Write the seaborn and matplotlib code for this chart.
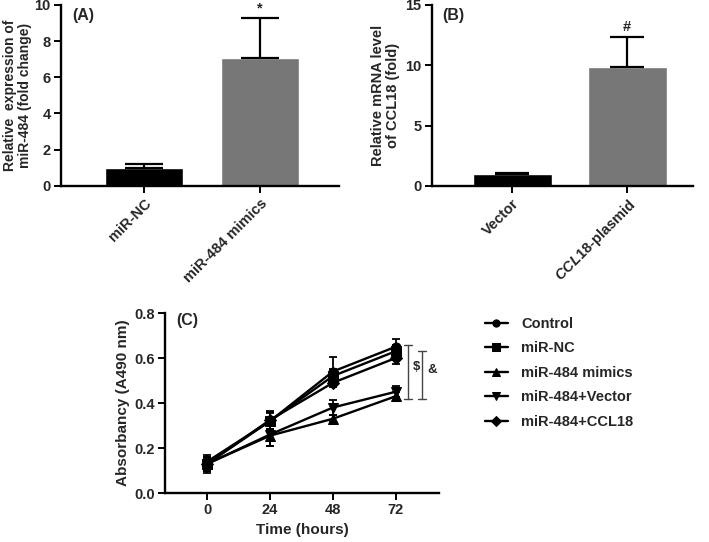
import matplotlib
matplotlib.use("Agg")
import matplotlib.pyplot as plt
import seaborn as sns
import pandas as pd
import numpy as np

# ---------------- data ----------------
a_cats = ["miR-NC", "miR-484 mimics"]
a_means = [1.0, 7.05]
a_err = [0.22, 2.2]

b_cats = ["Vector", "CCL18-plasmid"]
b_means = [0.95, 9.85]
b_err = [0.1, 2.45]

times = [0, 24, 48, 72]
groups = ["Control", "miR-NC", "miR-484 mimics", "miR-484+Vector", "miR-484+CCL18"]
control = [0.14, 0.32, 0.54, 0.65]
mir_nc = [0.13, 0.32, 0.52, 0.63]
mimics = [0.13, 0.255, 0.33, 0.43]
vector = [0.13, 0.26, 0.38, 0.45]
ccl18 = [0.13, 0.325, 0.49, 0.60]
control_err = [0.02, 0.04, 0.065, 0.035]
mir_nc_err = [0.03, 0.035, 0.03, 0.03]
mimics_err = [0.02, 0.045, 0.015, 0.02]
vector_err = [0.03, 0.05, 0.035, 0.025]
ccl18_err = [0.04, 0.04, 0.02, 0.025]

series = [control, mir_nc, mimics, vector, ccl18]
series_err = [control_err, mir_nc_err, mimics_err, vector_err, ccl18_err]

# ---------------- style ----------------
sns.set_theme(style="ticks")
plt.rcParams["font.family"] = ["Liberation Sans", "DejaVu Sans"]
plt.rcParams["font.weight"] = "bold"
plt.rcParams["axes.labelweight"] = "bold"
plt.rcParams["mathtext.fontset"] = "custom"
plt.rcParams["mathtext.it"] = "Liberation Sans:italic"
plt.rcParams["mathtext.rm"] = "Liberation Sans"

FS = 10.5
LFS = 10
fig = plt.figure(figsize=(7.09, 5.42), dpi=100)

def style_axes(ax):
    for s in ["top", "right"]:
        ax.spines[s].set_visible(False)
    for s in ["left", "bottom"]:
        ax.spines[s].set_linewidth(1.7)
        ax.spines[s].set_color("black")
    ax.tick_params(axis="both", width=1.4, length=5, color="black",
                   labelsize=FS, direction="out", pad=2.5)
    for lab in ax.get_yticklabels():
        lab.set_fontweight("bold")

# ---------------- panel A ----------------
axA = fig.add_axes([0.086, 0.657, 0.392, 0.334])
sns.barplot(x=a_cats, y=a_means, hue=a_cats, palette=["#000000", "#777777"],
            legend=False, width=0.67, saturation=1, ax=axA)
axA.errorbar(range(len(a_cats)), a_means, yerr=[[0] * len(a_err), a_err],
             fmt="none", ecolor="black", elinewidth=1.6, capsize=14, capthick=1.6)
axA.set_xlim(-0.716, 1.68)
axA.set_ylim(0, 10)
axA.set_yticks([0, 2, 4, 6, 8, 10])
axA.set_ylabel("Relative  expression of\nmiR-484 (fold change)", fontsize=LFS,
               fontweight="bold", labelpad=2, linespacing=1.05)
axA.set_xlabel("")
style_axes(axA)
axA.set_xticks(range(len(a_cats)))
axA.set_xticklabels(a_cats, rotation=45, ha="right", rotation_mode="anchor",
                    fontweight="bold", fontsize=FS)
axA.text(0.04, 0.985, "(A)", transform=axA.transAxes, fontsize=FS + 1,
         fontweight="bold", va="top", ha="left")
axA.text(1, a_means[1] + a_err[1] + 0.15, "*", ha="center", va="bottom",
         fontsize=FS, fontweight="bold")

# ---------------- panel B ----------------
axB = fig.add_axes([0.609, 0.657, 0.368, 0.334])
sns.barplot(x=b_cats, y=b_means, hue=b_cats, palette=["#000000", "#777777"],
            legend=False, width=0.69, saturation=1, ax=axB)
axB.errorbar(range(len(b_cats)), b_means, yerr=[[0] * len(b_err), b_err],
             fmt="none", ecolor="black", elinewidth=1.6, capsize=12.5, capthick=1.6)
axB.set_xlim(-0.70, 1.57)
axB.set_ylim(0, 15)
axB.set_yticks([0, 5, 10, 15])
axB.set_ylabel("Relative mRNA level\nof CCL18 (fold)", fontsize=LFS + 0.5,
               fontweight="bold", labelpad=4, linespacing=1.05)
axB.set_xlabel("")
style_axes(axB)
axB.set_xticks(range(len(b_cats)))
axB.set_xticklabels(["Vector", r"$\mathit{CCL18}$-plasmid"], rotation=45, ha="right",
                    rotation_mode="anchor", fontweight="bold", fontsize=FS)
axB.text(0.04, 0.985, "(B)", transform=axB.transAxes, fontsize=FS + 1,
         fontweight="bold", va="top", ha="left")
axB.text(1, b_means[1] + b_err[1] + 0.3, "#", ha="center", va="bottom",
         fontsize=FS, fontweight="bold")

# ---------------- panel C ----------------
axC = fig.add_axes([0.233, 0.0904, 0.386, 0.3321])
rows = []
for g, vals in zip(groups, series):
    for t, v in zip(times, vals):
        rows.append({"Time": t, "Absorbancy": v, "Group": g})
df = pd.DataFrame(rows)
markers = {"Control": "o", "miR-NC": "s", "miR-484 mimics": "^",
           "miR-484+Vector": "v", "miR-484+CCL18": "D"}
sns.lineplot(data=df, x="Time", y="Absorbancy", hue="Group", style="Group",
             markers=markers, dashes=False, palette=["black"] * 5,
             hue_order=groups, style_order=groups,
             linewidth=1.7, markersize=6.5, markeredgecolor="black", ax=axC)
for vals, errs in zip(series, series_err):
    axC.errorbar(times, vals, yerr=errs, fmt="none", ecolor="black",
                 elinewidth=1.3, capsize=3, capthick=1.3)
axC.set_xlim(-16.1, 88.5)
axC.set_ylim(0, 0.8)
axC.set_xticks(times)
axC.set_yticks([0, 0.2, 0.4, 0.6, 0.8])
axC.set_yticklabels(["0.0", "0.2", "0.4", "0.6", "0.8"])
axC.set_xticklabels([str(t) for t in times], fontweight="bold")
axC.set_xlabel("Time (hours)", fontsize=FS + 0.5, fontweight="bold", labelpad=4)
axC.set_ylabel("Absorbancy (A490 nm)", fontsize=FS + 0.5, fontweight="bold", labelpad=3)
style_axes(axC)
axC.text(0.04, 1.0, "(C)", transform=axC.transAxes, fontsize=FS + 1,
         fontweight="bold", va="top", ha="left")

# significance brackets
def bracket(x, y0, y1, label):
    axC.plot([x, x], [y0, y1], color="#444444", lw=1.0, clip_on=False)
    axC.plot([x - 1.6, x + 1.6], [y0, y0], color="#444444", lw=1.0, clip_on=False)
    axC.plot([x - 1.6, x + 1.6], [y1, y1], color="#444444", lw=1.0, clip_on=False)
    axC.text(x + 2.0, (y0 + y1) / 2 + 0.02, label, fontsize=FS - 1,
             fontweight="bold", va="center", ha="left", clip_on=False)

bracket(76.7, 0.42, 0.66, "$")
bracket(82.0, 0.42, 0.63, "&")

handles, labels = axC.get_legend_handles_labels()
leg = axC.get_legend()
if leg is not None:
    leg.remove()
fig.legend(handles, labels, loc="upper left", bbox_to_anchor=(0.665, 0.44),
           frameon=False, handlelength=1.6, handletextpad=0.9,
           labelspacing=0.72, markerscale=0.8,
           prop={"weight": "bold", "size": FS})

fig.savefig("out.png", dpi=100)
